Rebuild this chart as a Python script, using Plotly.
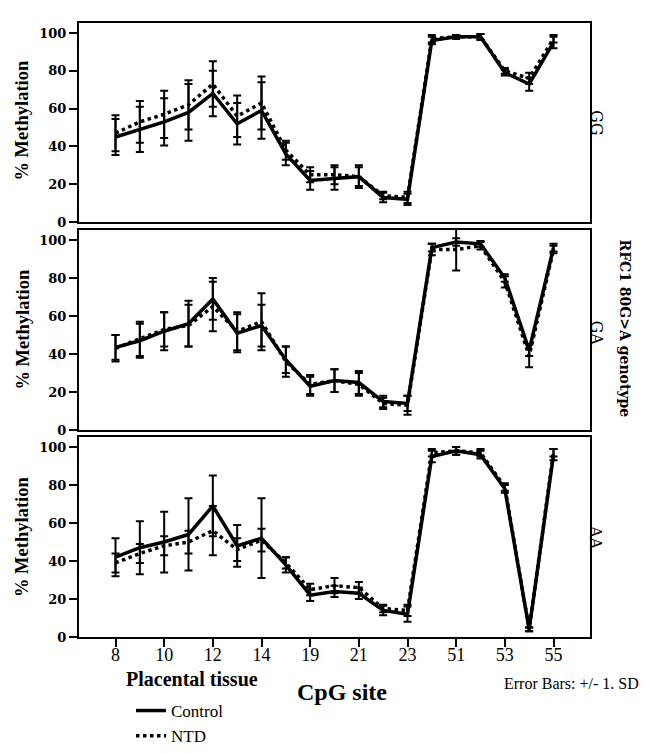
import plotly.graph_objects as go

sites = ["8", "9", "10", "11", "12", "13", "14", "17", "19", "20", "21", "22", "23",
         "50", "51", "52", "53", "54", "55"]
tick_sites = ["8", "10", "12", "14", "19", "21", "23", "51", "53", "55"]
y_ticks = [0, 20, 40, 60, 80, 100]

genotypes = ["GG", "GA", "AA"]

gg_control = [45, 49, 53, 58, 68, 52, 59, 36, 22, 23, 24, 13, 12, 96, 98, 98, 79, 73, 95]
gg_control_sd = [9.5, 12, 12.5, 15, 12, 11, 15, 6, 5, 6, 6, 2.5, 3, 2, 1, 1.5, 1.5, 3.5, 3]
gg_ntd = [47, 53, 57, 62, 73, 56, 63, 38, 25, 25, 24, 14, 13, 97, 98, 98, 80, 76, 97]
gg_ntd_sd = [9.5, 11, 12.5, 13, 12, 11, 14, 5, 4, 5, 5, 2, 3, 2, 1, 1.5, 1.5, 3, 2]

ga_control = [43.5, 47, 52, 56, 69, 51, 55, 37, 23, 26, 25, 15, 14, 96, 99, 98, 80, 42, 96]
ga_control_sd = [6.5, 9, 10, 12, 11, 10, 11, 7, 5, 6, 6, 3, 4, 2, 2, 1.5, 2, 3, 2]
ga_ntd = [43, 48, 53, 55, 65, 52, 57, 36, 24, 26, 24, 14, 13, 95, 95, 97, 78, 39, 95]
ga_ntd_sd = [7, 9, 9, 11, 13, 10, 15, 8, 5, 6, 6, 3, 5, 3, 11, 2, 3, 6, 2]

aa_control = [42, 47, 50, 54, 69, 48, 52, 38, 22, 24, 23, 14, 12, 95, 98, 96, 78, 4, 96]
aa_control_sd = [10, 14, 16, 19, 16, 11, 21, 4, 3, 3, 3, 2.5, 4, 3, 2, 2, 2, 1, 3]
aa_ntd = [39, 44, 48, 50, 56, 46, 51, 39, 25, 27, 26, 15, 14, 97, 98, 97, 79, 4, 97]
aa_ntd_sd = [5, 5, 5, 6, 13, 6, 6, 3, 3, 4, 3, 2, 3, 2, 2, 2, 2, 1, 2]

panels = [
    (gg_control, gg_control_sd, gg_ntd, gg_ntd_sd),
    (ga_control, ga_control_sd, ga_ntd, ga_ntd_sd),
    (aa_control, aa_control_sd, aa_ntd, aa_ntd_sd),
]

W, H = 648, 753
ML, MR, MT, MB = 71, 66, 15, 124
PW = W - ML - MR
PH = H - MT - MB

def py(px):  # pixel y -> paper y
    return (H - MB - px) / PH

def pxx(px):  # pixel x -> paper x
    return (px - ML) / PW

# panel frames in pixels (top, bottom)
frames = [(15, 214), (222, 422), (429, 629)]

fig = go.Figure()
serif = "Liberation Serif"
slab = "DejaVu Serif"

for i, (c, csd, n, nsd) in enumerate(panels):
    k = "" if i == 0 else str(i + 1)
    fig.add_trace(go.Scatter(
        x=sites, y=n, mode="lines", name="NTD",
        line=dict(color="black", width=3.5, dash="dot"),
        error_y=dict(type="data", array=nsd, color="black", thickness=2, width=4),
        xaxis="x" + k, yaxis="y" + k, showlegend=(i == 0), legendrank=2,
        cliponaxis=False,
    ))
    fig.add_trace(go.Scatter(
        x=sites, y=c, mode="lines", name="Control",
        line=dict(color="black", width=3.5),
        error_y=dict(type="data", array=csd, color="black", thickness=2, width=4),
        xaxis="x" + k, yaxis="y" + k, showlegend=(i == 0), legendrank=1,
        cliponaxis=False,
    ))

layout = dict(
    width=W, height=H,
    margin=dict(l=ML, r=MR, t=MT, b=MB, autoexpand=False),
    paper_bgcolor="white", plot_bgcolor="white",
    showlegend=True,
    legend=dict(x=123 / W, y=1 - 685 / H, xref="container", yref="container",
                xanchor="left", yanchor="top",
                font=dict(family=serif, size=17, color="black"),
                bgcolor="rgba(0,0,0,0)", borderwidth=0, itemwidth=30,
                tracegroupgap=0, traceorder="normal"),
)

for i in range(3):
    k = "" if i == 0 else str(i + 1)
    top, bot = frames[i]
    bottom = (i == 2)
    layout["xaxis" + k] = dict(
        type="category", categoryorder="array", categoryarray=sites,
        range=[-1.5, len(sites) + 0.5],
        anchor="y" + k, domain=[0, 1],
        showline=True, linecolor="black", linewidth=2, mirror=True,
        showgrid=False, zeroline=False,
        tickmode="array", tickvals=tick_sites, ticktext=tick_sites,
        ticks="outside" if bottom else "", ticklen=8, tickwidth=2, tickcolor="black",
        showticklabels=bottom, ticklabelstandoff=-8,
        tickfont=dict(family=serif, size=18, color="black"),
    )
    if i > 0:
        layout["xaxis" + k]["matches"] = "x"
    layout["yaxis" + k] = dict(
        range=[0, 105.3], domain=[py(bot), py(top)], anchor="x" + k,
        showline=True, linecolor="black", linewidth=2, mirror=True,
        showgrid=False, zeroline=False,
        tickmode="array", tickvals=y_ticks,
        ticks="outside", ticklen=8, tickwidth=2, tickcolor="black",
        tickfont=dict(family=slab, size=13, color="black", weight="bold"),
    )

fig.update_layout(**layout)

ann = []
ycent = [112.5, 321.5, 529]
for i, g in enumerate(genotypes):
    ann.append(dict(text="% Methylation", x=pxx(14), y=py(ycent[i]), xref="paper", yref="paper",
                    showarrow=False, textangle=-90, xanchor="center", yanchor="middle",
                    font=dict(family=serif, size=18.5, color="black", weight="bold")))
    gy = [115, 324.5, 529][i]
    ann.append(dict(text=g, x=pxx(588), y=py(gy), xref="paper", yref="paper",
                    showarrow=False, textangle=90, xanchor="center", yanchor="middle",
                    font=dict(family=slab, size=16, color="black")))

ann.append(dict(text="RFC1 80G>A genotype", x=pxx(617), y=py(320.5), xref="paper", yref="paper",
                showarrow=False, textangle=90, xanchor="center", yanchor="middle",
                font=dict(family=slab, size=14, color="black", weight="bold")))
ann.append(dict(text="Placental tissue", x=pxx(183.5), y=py(671), xref="paper", yref="paper",
                showarrow=False, xanchor="center", yanchor="middle",
                font=dict(family=serif, size=20, color="black", weight="bold")))
ann.append(dict(text="CpG site", x=pxx(334), y=py(684), xref="paper", yref="paper",
                showarrow=False, xanchor="center", yanchor="middle",
                font=dict(family=serif, size=24, color="black", weight="bold")))
ann.append(dict(text="Error Bars: +/- 1. SD", x=pxx(633), y=py(675), xref="paper", yref="paper",
                showarrow=False, xanchor="right", yanchor="middle",
                font=dict(family=serif, size=16, color="black")))

fig.update_layout(annotations=ann)
fig.write_html("out.html")
